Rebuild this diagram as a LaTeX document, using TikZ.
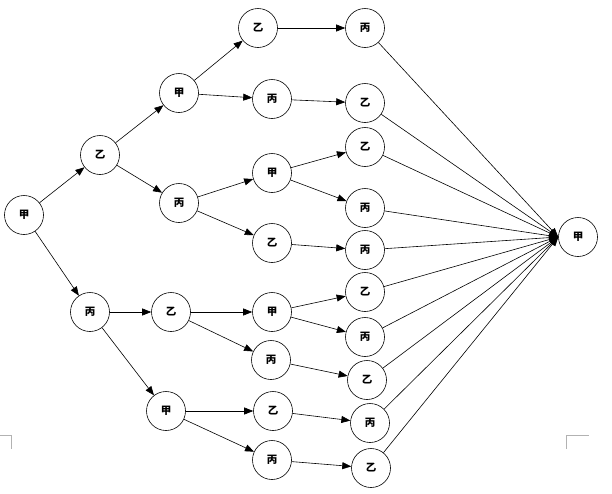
\documentclass[tikz,border=0pt]{standalone}
\usepackage{fontspec}
\newfontfamily\cjk{Noto Sans CJK SC}
\usepackage{tikz}
\usetikzlibrary{arrows}
\usetikzlibrary{arrows.meta}

\begin{document}
\begin{tikzpicture}[x=1pt,y=-1pt]
    \useasboundingbox (0,0) rectangle (612,493);
    \tikzstyle{every node}=[circle,draw,line width=0.6pt,minimum size=39pt,inner sep=0pt,
      font=\cjk\bfseries\fontsize{10.5}{10.5}\selectfont]
    % first player
    \node (s) at (24,215) {甲};
    % second
    \node (a) at (100,155) {乙};
    \node (b) at (90,312) {丙};
    % third
    \node (aa) at (179,93) {甲};
    \node (ab) at (179,203) {丙};
    \node (ba) at (171,312) {乙};
    \node (bb) at (166,411) {甲};
    % fourth
    \node (aaa) at (258,28) {乙};
    \node (aab) at (272,99) {丙};
    \node (aba) at (272,173) {甲};
    \node (abb) at (272,243) {乙};
    \node (baa) at (272,312) {甲};
    \node (bab) at (271,360) {丙};
    \node (bba) at (273,411) {乙};
    \node (bbb) at (272,460) {丙};
    % fifth
    \node (e1) at (365,28) {丙};
    \node (e2) at (365,103) {乙};
    \node (e3) at (365,147) {乙};
    \node (e4) at (365,208) {丙};
    \node (e5) at (365,250) {丙};
    \node (e6) at (365,292) {乙};
    \node (e7) at (365,337) {丙};
    \node (e8) at (367,380) {乙};
    \node (e9) at (370,423) {丙};
    \node (e10) at (371,468) {乙};
    % back to the first
    \node (T) at (578,237) {甲};
    \tikzstyle{every node}=[]
    \path[->,>={Triangle[length=9pt,width=7pt]},line width=0.6pt]
    (s) edge (a)
        edge (b)
    (a) edge (aa)
        edge (ab)
    (b) edge (ba)
        edge (bb)
    (aa) edge (aaa)
         edge (aab)
    (ab) edge (aba)
         edge (abb)
    (ba) edge (baa)
         edge (bab)
    (bb) edge (bba)
         edge (bbb)
    (aaa) edge (e1)
    (aab) edge (e2)
    (aba) edge (e3)
          edge (e4)
    (abb) edge (e5)
    (baa) edge (e6)
          edge (e7)
    (bab) edge (e8)
    (bba) edge (e9)
    (bbb) edge (e10) ;
    \path[->,>={Triangle[length=9pt,width=7pt]},line width=0.6pt]
    (e1) edge (T.west)
    (e2) edge (T.west)
    (e3) edge (T.west)
    (e4) edge (T.west)
    (e5) edge (T.west)
    (e6) edge (T.west)
    (e7) edge (T.west)
    (e8) edge (T.west)
    (e9) edge (T.west)
    (e10) edge (T.west) ;
    % page corners
    \draw[gray!60,line width=0.8pt] (0,435) -- (11,435) -- (11,449);
    \draw[gray!60,line width=0.8pt] (566,449) -- (566,435) -- (589,435);
\end{tikzpicture}
\end{document}
